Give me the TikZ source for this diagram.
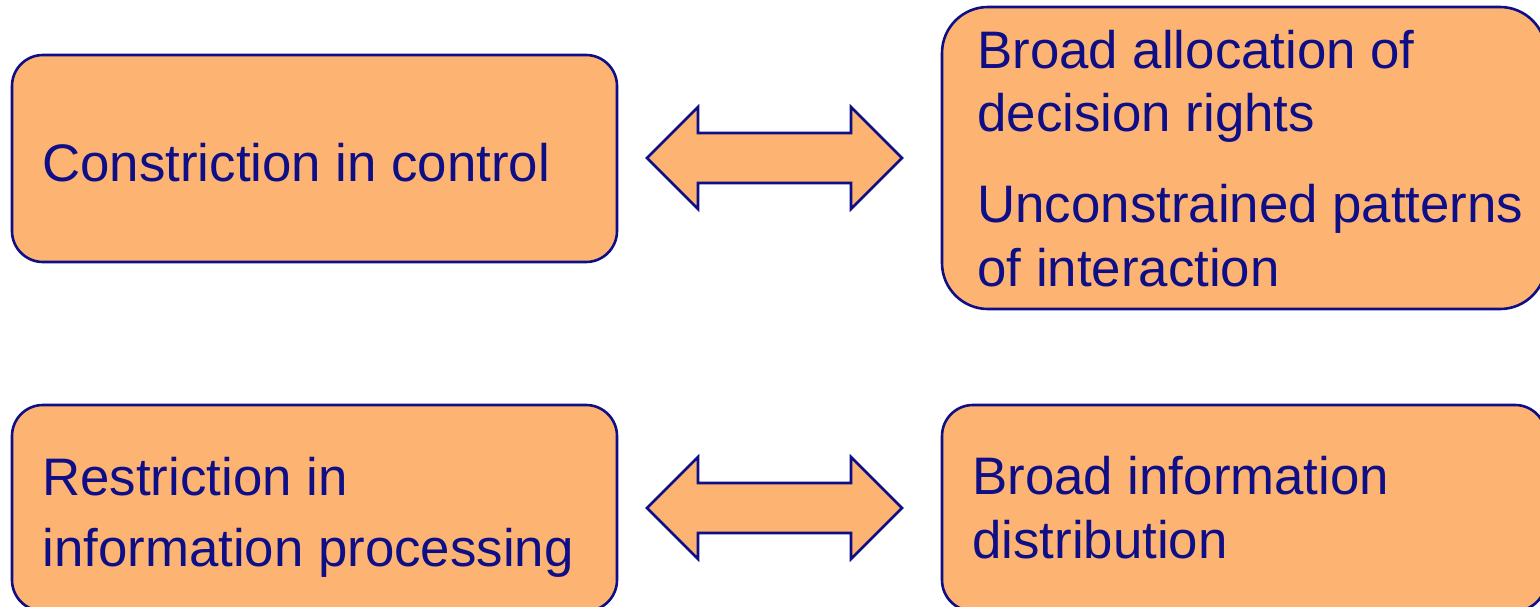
\documentclass[tikz,border=0pt]{standalone}
\usepackage{fontspec}
\setmainfont{Liberation Sans}
\definecolor{boxfill}{RGB}{253,179,114}
\definecolor{navy}{RGB}{14,14,134}
\tikzset{
  box/.style = {draw = navy, fill = boxfill, line width = 1.3pt},
  boxtext/.style = {anchor = base west, inner sep = 0pt, text = navy, align = left,
    font = \fontsize{26.4}{31.75}\selectfont}
}
\begin{document}
\begin{tikzpicture}[x = 0.5pt, y = -0.5pt]
\useasboundingbox (0,0) rectangle (1540,606);
\draw [box, rounded corners = 15.5pt] (12,55) rectangle (617,262);
\draw [box, rounded corners = 23pt] (942,7) rectangle (1546,309);
\draw [box, rounded corners = 15.5pt] (12,405) rectangle (617,611);
\draw [box, rounded corners = 15.5pt] (942,405) rectangle (1546,611);
\foreach \c in {158,508} {\draw [box, line join = miter] (647,\c) -- (698,\c-51) -- (698,\c-25) -- (851,\c-25) -- (851,\c-51) -- (902,\c) -- (851,\c+51) -- (851,\c+25) -- (698,\c+25) -- (698,\c+51) -- cycle;}
% anchors sit on the last line
\node [boxtext] (control) at (42,181) {Constriction in control};
\node [boxtext] (rights) at (977,286) {Broad allocation of\\decision rights\\[13.75pt]Unconstrained patterns\\of interaction};
\node [boxtext] (processing) at (42,566) {Restriction in\\[3.75pt]information processing};
\node [boxtext] (distribution) at (972,558) {Broad information\\distribution};
\end{tikzpicture}
\end{document}
